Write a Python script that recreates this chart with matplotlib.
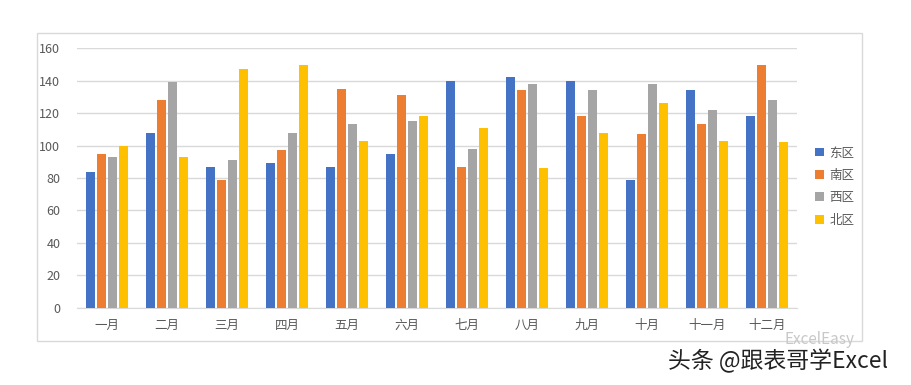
import numpy as np
import matplotlib.pyplot as plt
from matplotlib.patches import Rectangle

plt.rcParams['font.family'] = ['Noto Sans CJK SC', 'DejaVu Sans']

months = ["一月", "二月", "三月", "四月", "五月", "六月",
          "七月", "八月", "九月", "十月", "十一月", "十二月"]
east = [84, 108, 87, 89, 87, 95, 140, 142, 140, 79, 134, 118]
south = [95, 128, 79, 97, 135, 131, 87, 134, 118, 107, 113, 150]
west = [93, 139, 91, 108, 113, 115, 98, 138, 134, 138, 122, 128]
north = [100, 93, 147, 150, 103, 118, 111, 86, 108, 126, 103, 102]

series = [("东区", east, "#4472C4"),
          ("南区", south, "#ED7D31"),
          ("西区", west, "#A5A5A5"),
          ("北区", north, "#FFC000")]

fig = plt.figure(figsize=(9.11, 3.85), dpi=100)

# chart border
fig.patches.append(Rectangle((37 / 911, 1 - 341 / 385), 825 / 911, 308 / 385,
                             transform=fig.transFigure, fill=False,
                             edgecolor="#D9D9D9", linewidth=1))

ax = fig.add_axes([77 / 911, 1 - 307.7 / 385, 720 / 911, 259.4 / 385])

x = np.arange(len(months))
width = 0.15
step = 0.183
for i, (name, vals, color) in enumerate(series):
    ax.bar(x + (i - 1.5) * step, vals, width, color=color, label=name, zorder=3)

ax.set_xlim(-0.5, len(months) - 0.5)
ax.set_ylim(0, 160)
ax.set_yticks(range(0, 161, 20))
ax.set_xticks(x)
ax.set_xticklabels(months)
ax.yaxis.grid(True, color="#D9D9D9", linewidth=1, zorder=0)
ax.tick_params(axis="both", length=0, labelsize=9, colors="#595959", pad=8)
ax.tick_params(axis="y", pad=12)
for s in ["top", "right", "left"]:
    ax.spines[s].set_visible(False)
ax.spines["bottom"].set_color("#D9D9D9")

ax.legend(loc="center left", bbox_to_anchor=(1.01, 0.467), frameon=False,
          fontsize=9, handlelength=0.7, handleheight=0.7, labelspacing=0.75,
          handletextpad=0.4, labelcolor="#595959")

# watermark
fig.text(785 / 911, 1 - 340 / 385, "ExcelEasy", fontsize=11, color="#C8C8C8",
         va="center", ha="left")
fig.text(668 / 911, 1 - 361 / 385, "头条 @跟表哥学Excel", fontsize=16.5,
         color="#222222", va="center", ha="left")

fig.savefig("out.png", dpi=100)
